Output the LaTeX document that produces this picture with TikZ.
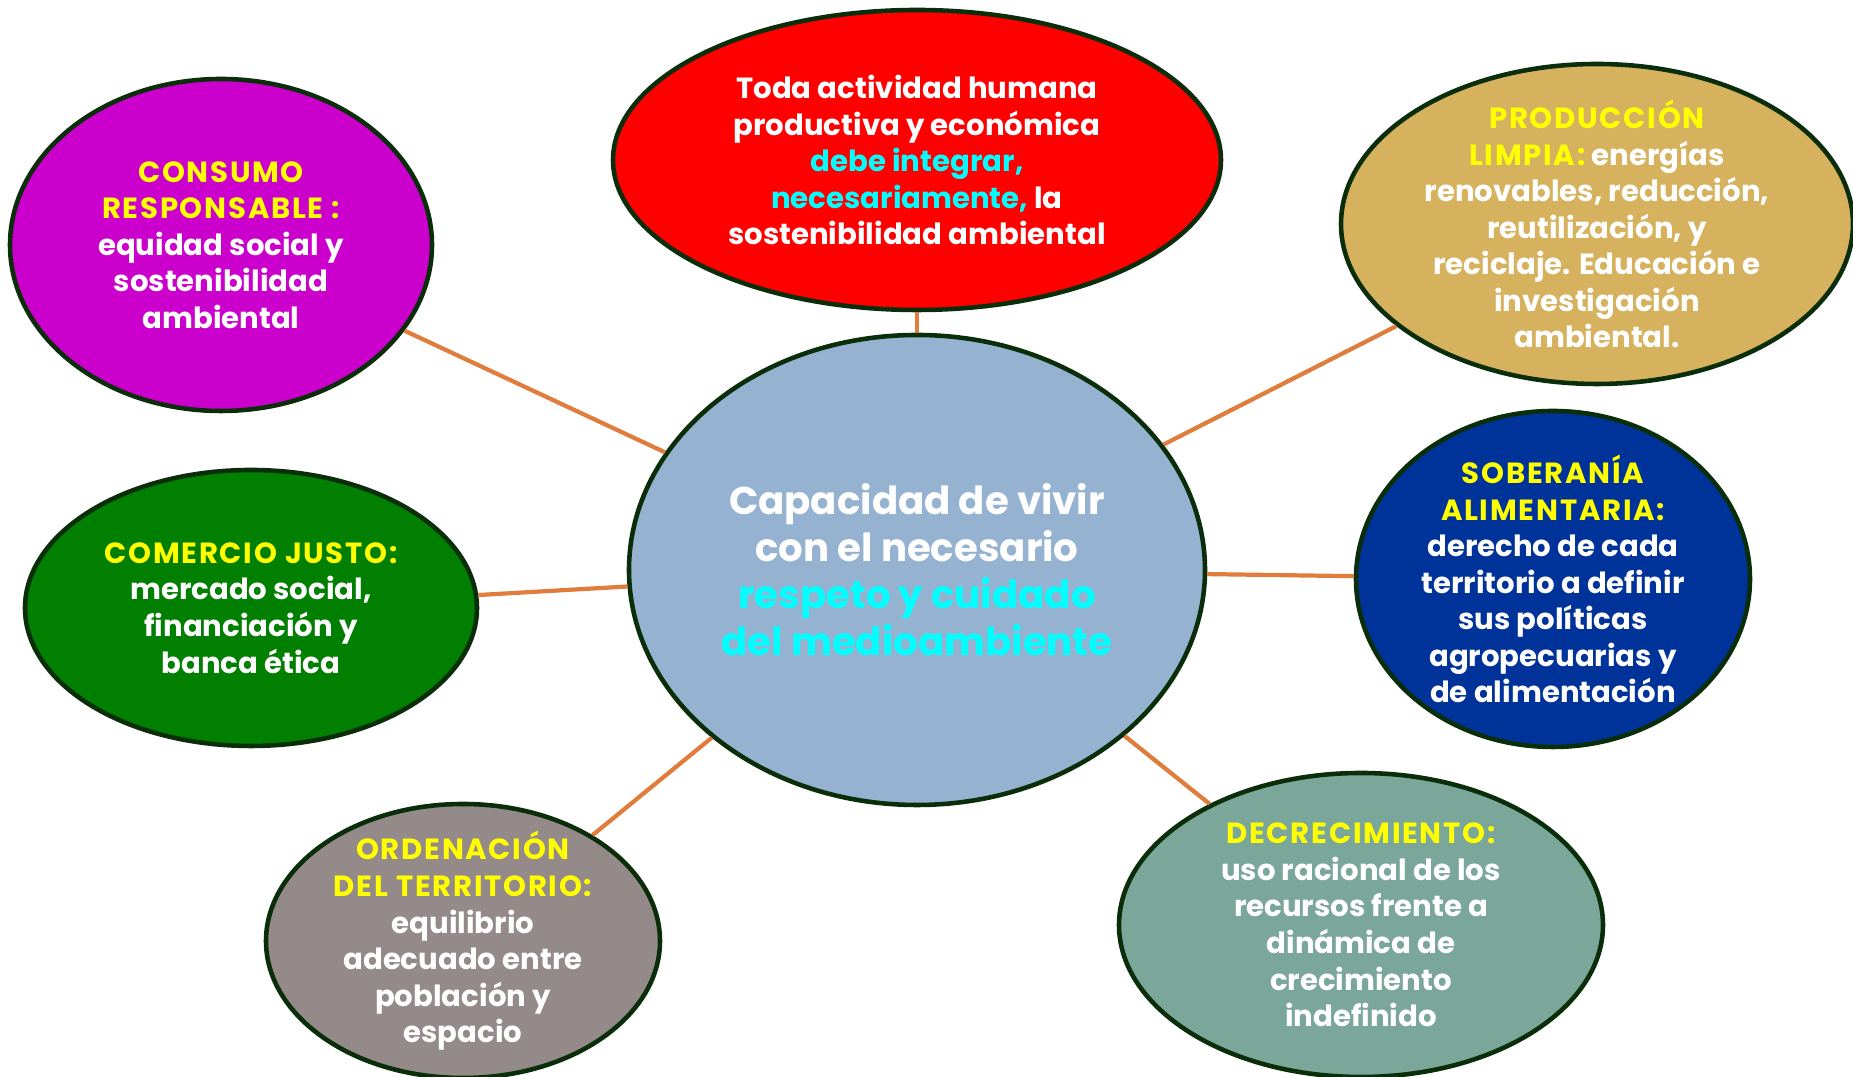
\documentclass[tikz,border=0pt]{standalone}
\usepackage{fontspec}
\setmainfont{Poppins}
\usetikzlibrary{shapes.geometric}
\definecolor{borde}{RGB}{10,45,10}
\definecolor{enlace}{RGB}{224,124,60}
\definecolor{amarillo}{RGB}{255,255,0}
\definecolor{cian}{RGB}{0,255,255}
\definecolor{centroazul}{RGB}{149,179,209}
\definecolor{magenta2}{RGB}{204,0,204}
\definecolor{rojo}{RGB}{255,0,0}
\definecolor{ocre}{RGB}{214,178,94}
\definecolor{verde}{RGB}{0,127,0}
\definecolor{azul}{RGB}{0,51,153}
\definecolor{gris}{RGB}{148,138,138}
\definecolor{verdeagua}{RGB}{123,167,155}
\newcommand{\titulo}[1]{\textcolor{amarillo}{\addfontfeature{LetterSpace=6}#1}}

\begin{document}
\begin{tikzpicture}[x=0.1mm, y=-0.1mm,
    oval/.style={ellipse, draw=borde, line width=1.3pt, inner sep=-6pt, align=center,
        text=white, font=\bfseries\fontsize{8.3}{10.4}\selectfont},
    enlace/.style={draw=enlace, line width=1.2pt}]
\useasboundingbox (0,0) rectangle (1853,1077);

% nodo central
\node[oval, fill=centroazul, minimum width=57.6mm, minimum height=47mm,
    font=\bfseries\fontsize{11}{13.4}\selectfont] (centro) at (917,570) {
    Capacidad de vivir \\
    con el necesario \\
    \textcolor{cian}{respeto y cuidado} \\
    \textcolor{cian}{del medioambiente}
};

% ramas
\node[oval, fill=rojo, minimum width=60.8mm, minimum height=30mm] (actividad) at (917,160) {
    Toda actividad humana \\
    productiva y económica \\
    \textcolor{cian}{debe integrar,} \\
    \textcolor{cian}{necesariamente,} la \\
    sostenibilidad ambiental
};

\node[oval, fill=magenta2, minimum width=42.2mm, minimum height=33.2mm] (consumo) at (221,245) {
    \titulo{CONSUMO} \\
    \titulo{RESPONSABLE :} \\
    equidad social y \\
    sostenibilidad \\
    ambiental
};

\node[oval, fill=ocre, minimum width=51.2mm, minimum height=32mm] (produccion) at (1597,224) {
    \titulo{PRODUCCIÓN} \\
    \titulo{LIMPIA:} energías \\
    renovables, reducción, \\
    reutilización, y \\
    reciclaje. Educación e \\
    investigación \\
    ambiental.
};

\node[oval, fill=verde, minimum width=45.2mm, minimum height=27.6mm] (comercio) at (251,608) {
    \titulo{COMERCIO JUSTO:} \\
    mercado social, \\
    financiación y \\
    banca ética
};

\node[oval, fill=azul, minimum width=39.4mm, minimum height=33.6mm] (soberania) at (1553,579) {
    \titulo{SOBERANÍA} \\
    \titulo{ALIMENTARIA:} \\
    derecho de cada \\
    territorio a definir \\
    sus políticas \\
    agropecuarias y \\
    de alimentación
};

\node[oval, fill=gris, minimum width=39.4mm, minimum height=27.4mm] (ordenacion) at (463,941) {
    \titulo{ORDENACIÓN} \\
    \titulo{DEL TERRITORIO:} \\
    equilibrio \\
    adecuado entre \\
    población y \\
    espacio
};

\node[oval, fill=verdeagua, minimum width=48.4mm, minimum height=30.4mm] (decrecimiento) at (1361,925) {
    \titulo{DECRECIMIENTO:} \\
    uso racional de los \\
    recursos frente a \\
    dinámica de \\
    crecimiento \\
    indefinido
};

% conexiones
\foreach \rama in {actividad,consumo,produccion,comercio,soberania,ordenacion,decrecimiento}
    \draw[enlace] (\rama) -- (centro);
\end{tikzpicture}
\end{document}
